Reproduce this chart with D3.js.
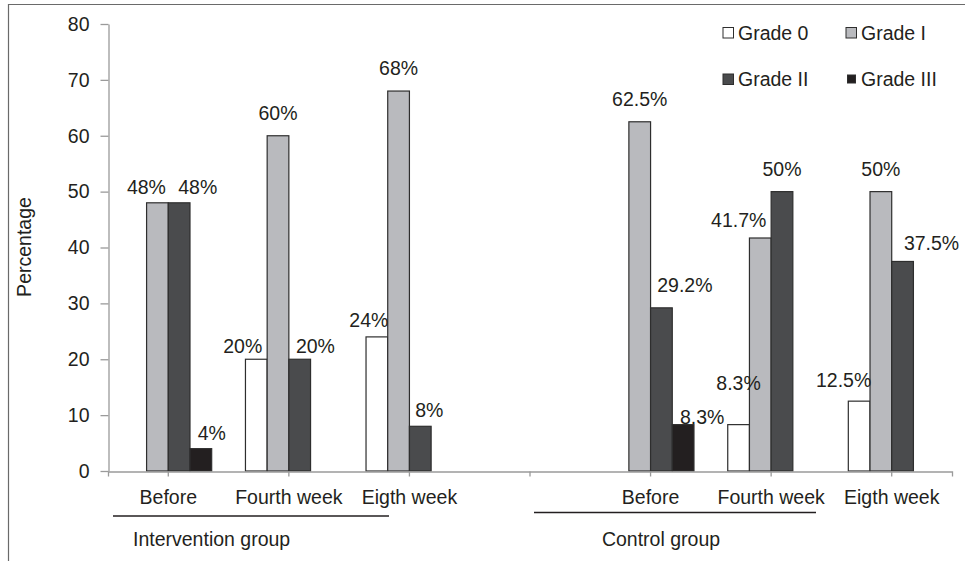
<!DOCTYPE html>
<html>
<head>
<meta charset="utf-8">
<script src="https://cdn.jsdelivr.net/npm/d3@7"></script>
<style>
  body { margin: 0; background: #fff; }
  svg { display: block; font-family: "Liberation Sans", Arial, sans-serif; }
  text { fill: #231f20; }
</style>
</head>
<body>
<svg></svg>
<script>
// categories along the x axis (the empty one is the gap between the two groups)
const categories = ['Before', 'Fourth week', 'Eigth week', '', 'Before', 'Fourth week', 'Eigth week']
const seriesNames = ['Grade 0', 'Grade I', 'Grade II', 'Grade III']
// percentages per grade, one per category
const grade0 = [0, 20, 24, null, 0, 8.3, 12.5]
const grade1 = [48, 60, 68, null, 62.5, 41.7, 50]
const grade2 = [48, 20, 8, null, 29.2, 50, 37.5]
const grade3 = [4, 0, 0, null, 8.3, 0, 0]
const yTicks = [0, 10, 20, 30, 40, 50, 60, 70, 80]
const groupNames = ['Intervention group', 'Control group']

const seriesValues = [grade0, grade1, grade2, grade3]
const colors = ['#ffffff', '#b9babe', '#4a4b4d', '#231f20']

// hand placed labels in the original: [dx, dy] away from the default spot
const labelNudge = {
  '0-1': [-11, 7.6], '0-2': [18.6, 7.6], '0-3': [11, 7.4],
  '1-0': [-13.6, 10], '1-2': [15.7, 10],
  '2-0': [-8, 6.4], '2-2': [9, 7],
  '4-2': [23.5, 0], '4-3': [19, 15.4],
  '5-0': [0, -18.6], '5-1': [-21.6, 4.7],
  '6-0': [-15.5, 2], '6-2': [29, 4.5]
}

const svg = d3.select('svg')
  .attr('width', 965)
  .attr('height', 561)

const fontSize = 19.5

// frame
svg.append('path')
  .attr('d', 'M8.5,561V4.5H965')
  .attr('fill', 'none')
  .attr('stroke', '#6a6a6a')
  .attr('stroke-width', 1.2)

const x = d3.scaleBand()
  .domain(d3.range(categories.length))
  .range([108, 952])
  .padding(0)

const xSeries = d3.scaleBand()
  .domain(d3.range(seriesNames.length))
  .range([0, x.bandwidth()])
  .paddingInner(0)
  .paddingOuter(0.778)

const y = d3.scaleLinear()
  .domain([0, 80])
  .range([471, 24])

// y axis
const yAxis = d3.axisLeft(y)
  .tickValues(yTicks)
  .tickSize(8)
  .tickSizeOuter(0)
  .tickPadding(11)

const gy = svg.append('g')
  .attr('transform', 'translate(108.5,0)')
  .call(yAxis)
gy.selectAll('path, line').attr('stroke', '#9a9a9a').attr('stroke-width', 1.3)
gy.selectAll('text')
  .style('font-size', fontSize + 'px')
  .style('font-family', '"Liberation Sans", Arial, sans-serif')
  .attr('fill', '#231f20')

// y title
svg.append('text')
  .attr('transform', 'translate(31,247) rotate(-90)')
  .attr('text-anchor', 'middle')
  .style('font-size', fontSize + 'px')
  .text('Percentage')

// bars
const bars = []
categories.forEach((c, ci) => {
  seriesValues.forEach((vals, si) => {
    const v = vals[ci]
    if (v) bars.push({ ci, si, v })
  })
})

svg.append('g')
  .selectAll('rect')
  .data(bars)
  .enter()
  .append('rect')
  .attr('x', d => x(d.ci) + xSeries(d.si))
  .attr('y', d => y(d.v))
  .attr('width', xSeries.bandwidth())
  .attr('height', d => y(0) - y(d.v))
  .attr('fill', d => colors[d.si])
  .attr('stroke', '#2e2e2e')
  .attr('stroke-width', 1.2)

// x axis
const xAxis = d3.axisBottom(x)
  .tickFormat(i => categories[i])
  .tickSize(5)
  .tickSizeOuter(5)
  .tickPadding(14)

const gx = svg.append('g')
  .attr('transform', 'translate(0,471.5)')
  .call(xAxis)
gx.selectAll('path, line').attr('stroke', '#9a9a9a').attr('stroke-width', 1.3)
gx.selectAll('text')
  .style('font-size', fontSize + 'px')
  .style('font-family', '"Liberation Sans", Arial, sans-serif')
  .attr('fill', '#231f20')

// data labels
svg.append('g')
  .selectAll('text')
  .data(bars)
  .enter()
  .append('text')
  .attr('text-anchor', 'middle')
  .style('font-size', fontSize + 'px')
  .attr('x', d => {
    const n = labelNudge[d.ci + '-' + d.si] || [0, 0]
    return x(d.ci) + xSeries(d.si) + xSeries.bandwidth() / 2 + n[0]
  })
  .attr('y', d => {
    const n = labelNudge[d.ci + '-' + d.si] || [0, 0]
    return y(d.v) - 16 + n[1]
  })
  .text(d => d.v + '%')

// group brackets under the axis (drawn by hand in the original)
const groupLayout = [
  { x1: 113, x2: 389, ly: 516, tx: 133, anchor: 'start' },
  { x1: 534, x2: 816, ly: 512.5, tx: 661, anchor: 'middle' }
]
groupNames.forEach((name, i) => {
  const g = groupLayout[i]
  svg.append('line')
    .attr('x1', g.x1).attr('x2', g.x2)
    .attr('y1', g.ly).attr('y2', g.ly)
    .attr('stroke', '#231f20')
    .attr('stroke-width', 1.3)
  svg.append('text')
    .attr('x', g.tx)
    .attr('y', 545.5)
    .attr('text-anchor', g.anchor)
    .style('font-size', fontSize + 'px')
    .text(name)
})

// legend, two columns by two rows
const legend = svg.append('g')
  .selectAll('g')
  .data(seriesNames)
  .enter()
  .append('g')
  .attr('transform', (d, i) => `translate(${723 + (i % 2) * 123},${39.5 + Math.floor(i / 2) * 46.5})`)

legend.append('rect')
  .attr('x', d => d === 'Grade III' ? 1.5 : 0)
  .attr('y', d => d === 'Grade III' ? -11 : -12)
  .attr('width', d => d === 'Grade III' ? 8 : 10.5)
  .attr('height', d => d === 'Grade III' ? 8 : 10.5)
  .attr('fill', (d, i) => colors[i])
  .attr('stroke', '#2e2e2e')
  .attr('stroke-width', 1)

legend.append('text')
  .attr('x', 15)
  .attr('y', 0)
  .style('font-size', fontSize + 'px')
  .text(d => d)
</script>
</body>
</html>
